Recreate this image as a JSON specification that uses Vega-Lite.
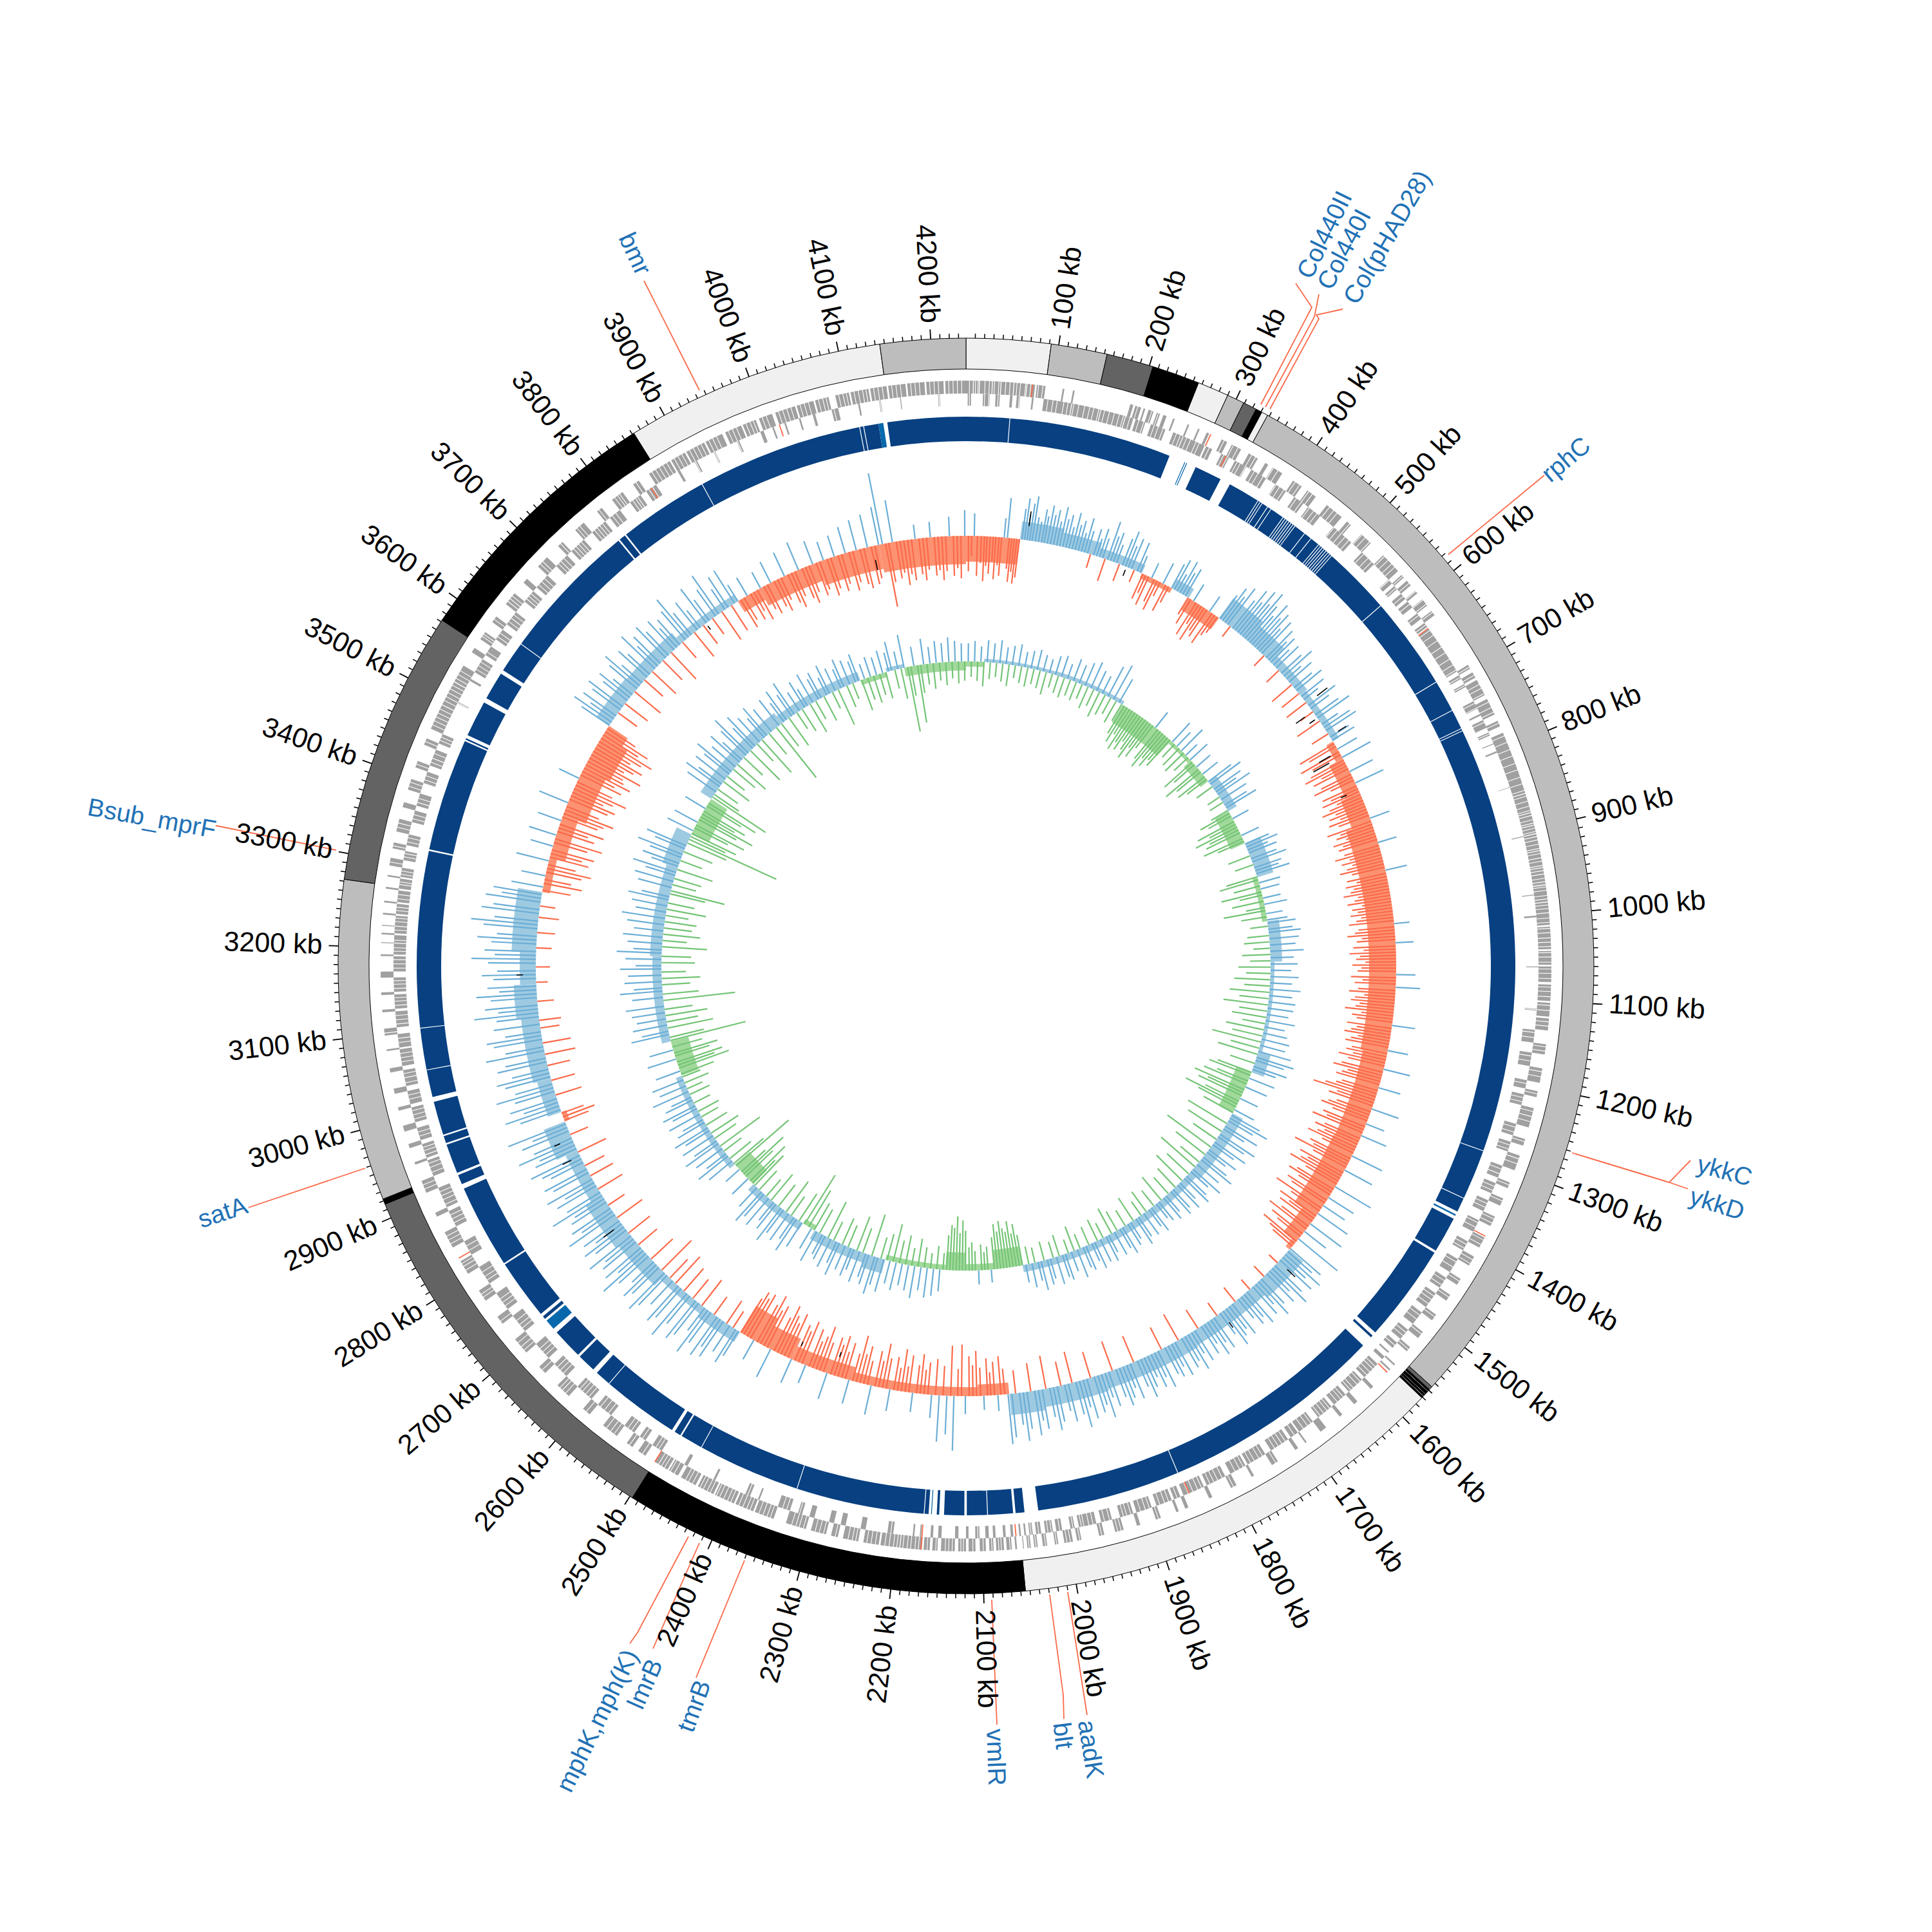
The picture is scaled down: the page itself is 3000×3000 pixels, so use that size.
{"$schema":"https://vega.github.io/schema/vega-lite/v6.json","width":3000,"height":3000,"autosize":{"type":"fit","contains":"padding"},"padding":0,"background":"white","config":{"view":{"stroke":null}},
"datasets":{
"contigs":[{"s":0,"e":92,"t":"a"},{"s":92,"e":153,"t":"b"},{"s":153,"e":204,"t":"c"},{"s":204,"e":256,"t":"d"},{"s":256,"e":290,"t":"a"},{"s":290,"e":309,"t":"b"},{"s":309,"e":324,"t":"c"},{"s":324,"e":331,"t":"d"},{"s":331,"e":338,"t":"a"},{"s":338,"e":1555,"t":"b"},{"s":1555,"e":1559,"t":"c"},{"s":1559,"e":1561,"t":"d"},{"s":1561,"e":1562,"t":"a"},{"s":1562,"e":1565,"t":"d"},{"s":1565,"e":1566,"t":"b"},{"s":1566,"e":1568,"t":"d"},{"s":1568,"e":1569,"t":"a"},{"s":1569,"e":1571,"t":"d"},{"s":1571,"e":2055,"t":"a"},{"s":2055,"e":2497,"t":"d"},{"s":2497,"e":2916,"t":"c"},{"s":2916,"e":2922,"t":"d"},{"s":2922,"e":3272,"t":"b"},{"s":3272,"e":3572,"t":"c"},{"s":3572,"e":3862,"t":"d"},{"s":3862,"e":4145,"t":"a"},{"s":4145,"e":4238,"t":"b"}],
"minor":[10,20,30,40,50,60,70,80,90,110,120,130,140,150,160,170,180,190,210,220,230,240,250,260,270,280,290,310,320,330,340,350,360,370,380,390,410,420,430,440,450,460,470,480,490,510,520,530,540,550,560,570,580,590,610,620,630,640,650,660,670,680,690,710,720,730,740,750,760,770,780,790,810,820,830,840,850,860,870,880,890,910,920,930,940,950,960,970,980,990,1010,1020,1030,1040,1050,1060,1070,1080,1090,1110,1120,1130,1140,1150,1160,1170,1180,1190,1210,1220,1230,1240,1250,1260,1270,1280,1290,1310,1320,1330,1340,1350,1360,1370,1380,1390,1410,1420,1430,1440,1450,1460,1470,1480,1490,1510,1520,1530,1540,1550,1560,1570,1580,1590,1610,1620,1630,1640,1650,1660,1670,1680,1690,1710,1720,1730,1740,1750,1760,1770,1780,1790,1810,1820,1830,1840,1850,1860,1870,1880,1890,1910,1920,1930,1940,1950,1960,1970,1980,1990,2010,2020,2030,2040,2050,2060,2070,2080,2090,2110,2120,2130,2140,2150,2160,2170,2180,2190,2210,2220,2230,2240,2250,2260,2270,2280,2290,2310,2320,2330,2340,2350,2360,2370,2380,2390,2410,2420,2430,2440,2450,2460,2470,2480,2490,2510,2520,2530,2540,2550,2560,2570,2580,2590,2610,2620,2630,2640,2650,2660,2670,2680,2690,2710,2720,2730,2740,2750,2760,2770,2780,2790,2810,2820,2830,2840,2850,2860,2870,2880,2890,2910,2920,2930,2940,2950,2960,2970,2980,2990,3010,3020,3030,3040,3050,3060,3070,3080,3090,3110,3120,3130,3140,3150,3160,3170,3180,3190,3210,3220,3230,3240,3250,3260,3270,3280,3290,3310,3320,3330,3340,3350,3360,3370,3380,3390,3410,3420,3430,3440,3450,3460,3470,3480,3490,3510,3520,3530,3540,3550,3560,3570,3580,3590,3610,3620,3630,3640,3650,3660,3670,3680,3690,3710,3720,3730,3740,3750,3760,3770,3780,3790,3810,3820,3830,3840,3850,3860,3870,3880,3890,3910,3920,3930,3940,3950,3960,3970,3980,3990,4010,4020,4030,4040,4050,4060,4070,4080,4090,4110,4120,4130,4140,4150,4160,4170,4180,4190,4210,4220,4230],
"major":[{"k":100,"t":"100 kb"},{"k":200,"t":"200 kb"},{"k":300,"t":"300 kb"},{"k":400,"t":"400 kb"},{"k":500,"t":"500 kb"},{"k":600,"t":"600 kb"},{"k":700,"t":"700 kb"},{"k":800,"t":"800 kb"},{"k":900,"t":"900 kb"},{"k":1000,"t":"1000 kb"},{"k":1100,"t":"1100 kb"},{"k":1200,"t":"1200 kb"},{"k":1300,"t":"1300 kb"},{"k":1400,"t":"1400 kb"},{"k":1500,"t":"1500 kb"},{"k":1600,"t":"1600 kb"},{"k":1700,"t":"1700 kb"},{"k":1800,"t":"1800 kb"},{"k":1900,"t":"1900 kb"},{"k":2000,"t":"2000 kb"},{"k":2100,"t":"2100 kb"},{"k":2200,"t":"2200 kb"},{"k":2300,"t":"2300 kb"},{"k":2400,"t":"2400 kb"},{"k":2500,"t":"2500 kb"},{"k":2600,"t":"2600 kb"},{"k":2700,"t":"2700 kb"},{"k":2800,"t":"2800 kb"},{"k":2900,"t":"2900 kb"},{"k":3000,"t":"3000 kb"},{"k":3100,"t":"3100 kb"},{"k":3200,"t":"3200 kb"},{"k":3300,"t":"3300 kb"},{"k":3400,"t":"3400 kb"},{"k":3500,"t":"3500 kb"},{"k":3600,"t":"3600 kb"},{"k":3700,"t":"3700 kb"},{"k":3800,"t":"3800 kb"},{"k":3900,"t":"3900 kb"},{"k":4000,"t":"4000 kb"},{"k":4100,"t":"4100 kb"},{"k":4200,"t":"4200 kb"}],
"cdsO":[{"s":0,"e":8},{"s":9,"e":15},{"s":16,"e":30},{"s":31,"e":40},{"s":41,"e":55},{"s":56,"e":70},{"s":71,"e":80},{"s":82,"e":92},{"s":112,"e":114},{"s":124,"e":126},{"s":192,"e":196},{"s":198,"e":205},{"s":208,"e":210},{"s":214,"e":220},{"s":224,"e":228},{"s":232,"e":236},{"s":244,"e":246},{"s":262,"e":264},{"s":275,"e":277},{"s":286,"e":289},{"s":305,"e":312},{"s":318,"e":330},{"s":340,"e":352},{"s":362,"e":366},{"s":372,"e":385},{"s":400,"e":412},{"s":420,"e":432},{"s":448,"e":470},{"s":478,"e":484},{"s":500,"e":515},{"s":535,"e":560},{"s":566,"e":570},{"s":575,"e":582},{"s":590,"e":594},{"s":603,"e":612},{"s":620,"e":626},{"s":695,"e":700},{"s":705,"e":712},{"s":715,"e":735},{"s":740,"e":760},{"s":768,"e":775},{"s":783,"e":857},{"s":858,"e":880},{"s":881,"e":895},{"s":896,"e":905},{"s":906,"e":925},{"s":926,"e":945},{"s":946,"e":965},{"s":966,"e":985},{"s":986,"e":1012},{"s":1014,"e":1040},{"s":1042,"e":1058},{"s":1060,"e":1078},{"s":1081,"e":1100},{"s":1102,"e":1118},{"s":1120,"e":1134},{"s":1150,"e":1162},{"s":1178,"e":1195},{"s":1205,"e":1212},{"s":1225,"e":1248},{"s":1262,"e":1270},{"s":1282,"e":1300},{"s":1315,"e":1322},{"s":1335,"e":1344},{"s":1358,"e":1370},{"s":1385,"e":1398},{"s":1410,"e":1422},{"s":1440,"e":1448},{"s":1462,"e":1470},{"s":1490,"e":1498},{"s":1515,"e":1524},{"s":1538,"e":1544},{"s":1564,"e":1566},{"s":1572,"e":1574},{"s":1600,"e":1604},{"s":1625,"e":1630},{"s":1648,"e":1652},{"s":1672,"e":1680},{"s":1700,"e":1702},{"s":1712,"e":1716},{"s":1740,"e":1748},{"s":1772,"e":1775},{"s":1795,"e":1802},{"s":1826,"e":1830},{"s":1856,"e":1860},{"s":1868,"e":1871},{"s":1890,"e":1896},{"s":1915,"e":1919},{"s":1935,"e":1945},{"s":1958,"e":1964},{"s":1985,"e":1990},{"s":1995,"e":2005},{"s":2012,"e":2016},{"s":2025,"e":2030},{"s":2036,"e":2040},{"s":2044,"e":2048},{"s":2052,"e":2053},{"s":2060,"e":2062},{"s":2066,"e":2072},{"s":2075,"e":2084},{"s":2087,"e":2092},{"s":2096,"e":2103},{"s":2108,"e":2116},{"s":2119,"e":2128},{"s":2132,"e":2148},{"s":2152,"e":2158},{"s":2161,"e":2168},{"s":2170,"e":2195},{"s":2196,"e":2218},{"s":2220,"e":2238},{"s":2244,"e":2262},{"s":2268,"e":2276},{"s":2282,"e":2300},{"s":2306,"e":2330},{"s":2345,"e":2368},{"s":2370,"e":2392},{"s":2394,"e":2418},{"s":2420,"e":2440},{"s":2443,"e":2462},{"s":2466,"e":2478},{"s":2480,"e":2497},{"s":2510,"e":2520},{"s":2528,"e":2536},{"s":2550,"e":2570},{"s":2590,"e":2600},{"s":2622,"e":2640},{"s":2660,"e":2670},{"s":2692,"e":2712},{"s":2735,"e":2745},{"s":2768,"e":2782},{"s":2805,"e":2822},{"s":2840,"e":2860},{"s":2880,"e":2885},{"s":2910,"e":2925},{"s":2945,"e":2948},{"s":2965,"e":2970},{"s":2985,"e":2992},{"s":3010,"e":3014},{"s":3030,"e":3036},{"s":3055,"e":3060},{"s":3080,"e":3082},{"s":3098,"e":3106},{"s":3125,"e":3128},{"s":3145,"e":3148},{"s":3165,"e":3172},{"s":3190,"e":3192},{"s":3205,"e":3206},{"s":3215,"e":3217},{"s":3225,"e":3226},{"s":3238,"e":3240},{"s":3252,"e":3254},{"s":3268,"e":3270},{"s":3282,"e":3284},{"s":3295,"e":3304},{"s":3315,"e":3322},{"s":3335,"e":3350},{"s":3364,"e":3370},{"s":3385,"e":3398},{"s":3412,"e":3420},{"s":3440,"e":3448},{"s":3460,"e":3490},{"s":3491,"e":3520},{"s":3521,"e":3542},{"s":3560,"e":3566},{"s":3578,"e":3588},{"s":3602,"e":3610},{"s":3628,"e":3644},{"s":3660,"e":3666},{"s":3685,"e":3700},{"s":3718,"e":3725},{"s":3745,"e":3758},{"s":3778,"e":3785},{"s":3800,"e":3815},{"s":3830,"e":3838},{"s":3852,"e":3880},{"s":3882,"e":3900},{"s":3902,"e":3925},{"s":3927,"e":3948},{"s":3952,"e":3972},{"s":3974,"e":3990},{"s":3994,"e":4010},{"s":4014,"e":4038},{"s":4040,"e":4060},{"s":4062,"e":4078},{"s":4086,"e":4102},{"s":4104,"e":4125},{"s":4127,"e":4146},{"s":4148,"e":4168},{"s":4170,"e":4190},{"s":4192,"e":4212},{"s":4214,"e":4238}],
"cdsI":[{"s":2,"e":6},{"s":20,"e":28},{"s":35,"e":40},{"s":52,"e":55},{"s":60,"e":64},{"s":78,"e":80},{"s":92,"e":125},{"s":126,"e":160},{"s":161,"e":190},{"s":191,"e":200},{"s":203,"e":215},{"s":222,"e":240},{"s":250,"e":262},{"s":263,"e":290},{"s":292,"e":300},{"s":312,"e":322},{"s":330,"e":345},{"s":352,"e":372},{"s":385,"e":400},{"s":412,"e":425},{"s":432,"e":450},{"s":470,"e":498},{"s":515,"e":535},{"s":560,"e":566},{"s":570,"e":575},{"s":582,"e":590},{"s":594,"e":603},{"s":612,"e":620},{"s":626,"e":632},{"s":634,"e":690},{"s":690,"e":695},{"s":700,"e":705},{"s":712,"e":716},{"s":735,"e":745},{"s":752,"e":754},{"s":760,"e":770},{"s":776,"e":780},{"s":790,"e":791},{"s":800,"e":802},{"s":845,"e":846},{"s":905,"e":906},{"s":975,"e":976},{"s":1000,"e":1002},{"s":1060,"e":1061},{"s":1110,"e":1112},{"s":1135,"e":1150},{"s":1162,"e":1178},{"s":1195,"e":1205},{"s":1212,"e":1225},{"s":1248,"e":1262},{"s":1270,"e":1282},{"s":1300,"e":1315},{"s":1322,"e":1335},{"s":1344,"e":1358},{"s":1370,"e":1385},{"s":1398,"e":1410},{"s":1422,"e":1440},{"s":1448,"e":1462},{"s":1470,"e":1490},{"s":1498,"e":1515},{"s":1524,"e":1538},{"s":1544,"e":1552},{"s":1558,"e":1560},{"s":1566,"e":1570},{"s":1578,"e":1600},{"s":1604,"e":1625},{"s":1630,"e":1648},{"s":1652,"e":1672},{"s":1680,"e":1700},{"s":1702,"e":1712},{"s":1716,"e":1740},{"s":1748,"e":1772},{"s":1775,"e":1795},{"s":1802,"e":1826},{"s":1830,"e":1856},{"s":1860,"e":1868},{"s":1871,"e":1890},{"s":1896,"e":1915},{"s":1919,"e":1935},{"s":1945,"e":1958},{"s":1964,"e":1985},{"s":1990,"e":1995},{"s":2005,"e":2012},{"s":2016,"e":2025},{"s":2030,"e":2036},{"s":2040,"e":2044},{"s":2048,"e":2050},{"s":2054,"e":2056},{"s":2063,"e":2066},{"s":2072,"e":2075},{"s":2084,"e":2087},{"s":2092,"e":2096},{"s":2103,"e":2108},{"s":2116,"e":2119},{"s":2128,"e":2132},{"s":2148,"e":2152},{"s":2158,"e":2161},{"s":2172,"e":2174},{"s":2180,"e":2182},{"s":2205,"e":2212},{"s":2238,"e":2244},{"s":2262,"e":2268},{"s":2276,"e":2282},{"s":2300,"e":2306},{"s":2315,"e":2320},{"s":2330,"e":2345},{"s":2368,"e":2370},{"s":2380,"e":2386},{"s":2425,"e":2428},{"s":2462,"e":2466},{"s":2497,"e":2510},{"s":2520,"e":2528},{"s":2536,"e":2550},{"s":2570,"e":2590},{"s":2600,"e":2622},{"s":2640,"e":2660},{"s":2670,"e":2692},{"s":2712,"e":2735},{"s":2745,"e":2768},{"s":2782,"e":2805},{"s":2822,"e":2840},{"s":2860,"e":2880},{"s":2885,"e":2910},{"s":2925,"e":2945},{"s":2948,"e":2965},{"s":2970,"e":2985},{"s":2992,"e":3010},{"s":3014,"e":3030},{"s":3036,"e":3055},{"s":3060,"e":3080},{"s":3082,"e":3098},{"s":3106,"e":3125},{"s":3128,"e":3145},{"s":3148,"e":3165},{"s":3172,"e":3190},{"s":3192,"e":3205},{"s":3206,"e":3215},{"s":3217,"e":3225},{"s":3226,"e":3238},{"s":3240,"e":3252},{"s":3254,"e":3268},{"s":3270,"e":3282},{"s":3284,"e":3295},{"s":3304,"e":3315},{"s":3322,"e":3335},{"s":3350,"e":3364},{"s":3370,"e":3385},{"s":3398,"e":3412},{"s":3420,"e":3440},{"s":3448,"e":3460},{"s":3500,"e":3502},{"s":3530,"e":3533},{"s":3542,"e":3560},{"s":3566,"e":3578},{"s":3588,"e":3602},{"s":3610,"e":3628},{"s":3644,"e":3660},{"s":3666,"e":3685},{"s":3700,"e":3718},{"s":3725,"e":3745},{"s":3758,"e":3778},{"s":3785,"e":3800},{"s":3815,"e":3830},{"s":3838,"e":3852},{"s":3882,"e":3885},{"s":3905,"e":3908},{"s":3930,"e":3932},{"s":3960,"e":3963},{"s":3990,"e":3994},{"s":4005,"e":4007},{"s":4020,"e":4022},{"s":4038,"e":4040},{"s":4055,"e":4058},{"s":4078,"e":4086},{"s":4110,"e":4112},{"s":4135,"e":4137},{"s":4160,"e":4161},{"s":4205,"e":4207}],
"hatch":[4,11,14,22,27,33,38,46,51,59,63,69,75,84,89,97,103,108,116,121,128,134,141,147,152,158,165,171,177,183,188,196,201,207,213,218,226,231,237,243,248,254,259,267,272,279,283,291,296,303,308,315,320,326,333,337,344,349,356,361,368,373,379,386,391,397,403,409,415,422,427,434,440,445,452,458,463,471,476,482,488,494,501,506,513,518,525,531,537,543,549,554,561,568,573,579,586,591,598,604,610,615,622,629,637,644,652,661,669,678,686,693,698,703,709,714,721,726,733,738,744,751,757,763,771,778,787,795,804,812,821,829,838,846,854,861,867,873,878,884,889,893,899,903,909,913,918,923,929,934,938,943,949,953,958,962,968,972,978,982,989,993,998,1004,1009,1016,1021,1027,1032,1037,1044,1049,1055,1063,1068,1074,1084,1089,1095,1105,1111,1124,1129,1138,1144,1153,1158,1166,1172,1182,1188,1199,1208,1216,1221,1229,1235,1241,1252,1258,1265,1274,1279,1286,1292,1304,1310,1318,1326,1331,1338,1348,1353,1361,1366,1373,1379,1388,1394,1402,1407,1414,1419,1426,1433,1443,1452,1458,1465,1474,1479,1485,1493,1502,1508,1518,1528,1533,1541,1548,1582,1586,1591,1596,1607,1612,1618,1622,1634,1638,1643,1655,1659,1664,1669,1683,1688,1694,1707,1720,1725,1730,1735,1743,1752,1757,1763,1768,1778,1783,1789,1799,1806,1812,1817,1822,1833,1838,1844,1850,1864,1875,1880,1886,1893,1899,1904,1910,1922,1927,1931,1938,1942,1948,1954,1961,1968,1973,1979,1982,1987,1992,1998,2002,2008,2014,2018,2022,2027,2033,2038,2042,2046,2068,2078,2081,2089,2099,2105,2111,2122,2125,2135,2139,2143,2154,2164,2174,2178,2183,2187,2192,2199,2203,2208,2213,2224,2229,2234,2247,2251,2256,2271,2285,2290,2295,2309,2314,2318,2323,2334,2339,2349,2353,2358,2363,2374,2378,2383,2388,2398,2402,2407,2412,2416,2424,2428,2433,2437,2447,2452,2456,2471,2476,2484,2488,2492,2501,2505,2514,2524,2532,2540,2545,2554,2559,2565,2574,2580,2586,2595,2604,2609,2614,2618,2627,2632,2636,2645,2650,2655,2665,2675,2680,2685,2696,2701,2707,2717,2722,2728,2739,2750,2755,2760,2773,2777,2787,2792,2798,2810,2815,2819,2828,2834,2845,2850,2855,2865,2870,2875,2889,2895,2900,2905,2915,2920,2930,2936,2941,2952,2957,2961,2975,2980,2996,3001,3006,3020,3025,3040,3046,3051,3065,3070,3075,3088,3093,3101,3110,3115,3120,3132,3137,3141,3152,3157,3161,3176,3181,3186,3196,3200,3209,3221,3231,3235,3244,3248,3258,3263,3275,3278,3287,3291,3299,3308,3312,3318,3326,3331,3340,3345,3354,3359,3374,3379,3389,3394,3402,3407,3416,3424,3429,3435,3444,3452,3456,3465,3470,3475,3480,3485,3496,3501,3506,3511,3516,3525,3530,3535,3546,3551,3556,3570,3582,3585,3592,3597,3606,3614,3619,3624,3632,3636,3640,3648,3652,3656,3670,3675,3680,3689,3693,3704,3708,3713,3722,3729,3733,3737,3741,3748,3752,3762,3766,3770,3774,3781,3789,3794,3804,3808,3811,3819,3823,3826,3834,3842,3847,3856,3861,3866,3871,3876,3886,3891,3896,3906,3911,3916,3921,3931,3936,3941,3956,3961,3966,3978,3983,3987,3998,4003,4018,4023,4028,4033,4044,4049,4054,4066,4071,4075,4081,4090,4095,4099,4108,4113,4118,4122,4131,4136,4141,4152,4157,4162,4174,4179,4184,4196,4201,4206,4218,4223,4228,4233],
"ring":[{"s":0,"e":256,"t":"m"},{"s":276,"e":277,"t":"l"},{"s":278.5,"e":279.5,"t":"l"},{"s":291,"e":325,"t":"m"},{"s":338,"e":1372,"t":"m"},{"s":1376,"e":1378,"t":"l"},{"s":1382,"e":1427,"t":"m"},{"s":1430,"e":1552,"t":"m"},{"s":1557,"e":1560,"t":"m"},{"s":1574,"e":2030,"t":"m"},{"s":2047,"e":2058,"t":"m"},{"s":2061,"e":2092,"t":"m"},{"s":2093,"e":2118,"t":"m"},{"s":2121,"e":2146,"t":"m"},{"s":2152,"e":2155,"t":"m"},{"s":2161,"e":2162,"t":"l"},{"s":2165,"e":2170,"t":"m"},{"s":2171,"e":2486,"t":"m"},{"s":2488,"e":2496,"t":"m"},{"s":2500,"e":2616,"t":"m"},{"s":2622,"e":2645,"t":"m"},{"s":2648,"e":2686,"t":"m"},{"s":2692,"e":2705,"t":"l"},{"s":2708,"e":2712,"t":"m"},{"s":2716,"e":2791,"t":"m"},{"s":2793,"e":2897,"t":"m"},{"s":2903,"e":2915,"t":"m"},{"s":2918,"e":2955,"t":"m"},{"s":2957,"e":2966,"t":"m"},{"s":2968,"e":3010,"t":"m"},{"s":3016,"e":3321,"t":"m"},{"s":3323,"e":3463,"t":"m"},{"s":3465,"e":3467,"t":"m"},{"s":3471,"e":3516,"t":"m"},{"s":3522,"e":3557,"t":"m"},{"s":3562,"e":3776,"t":"m"},{"s":3778,"e":3786,"t":"m"},{"s":3788,"e":4106,"t":"m"},{"s":4107,"e":4111,"t":"m"},{"s":4112,"e":4130,"t":"m"},{"s":4130,"e":4136,"t":"l"},{"s":4141,"e":4238,"t":"m"}],
"slits":[54,378,381,384,392,397,415,418,421,424,427,430,433,448,458,470,473,476,479,482,485,488,491,577,693,733,758,761,1291,1354,1852,2330,2458,2596,3050,3102,3601,3900],
"markO":[77,291,1383,1577,2171,2497,2826],
"markI":[318,634,1849,2060,2171,3845,4014],
"skewBand":[{"s":0,"e":85,"v":-40},{"s":85,"e":150,"v":28},{"s":150,"e":210,"v":22},{"s":210,"e":284,"v":14},{"s":284,"e":337,"v":-8},{"s":337,"e":367,"v":16},{"s":367,"e":424,"v":-22},{"s":424,"e":480,"v":38},{"s":480,"e":530,"v":30},{"s":530,"e":600,"v":14},{"s":600,"e":689,"v":11},{"s":689,"e":720,"v":-12},{"s":720,"e":780,"v":-24},{"s":780,"e":830,"v":-32},{"s":830,"e":1200,"v":-42},{"s":1200,"e":1350,"v":-38},{"s":1350,"e":1480,"v":-40},{"s":1480,"e":1530,"v":-25},{"s":1530,"e":1545,"v":-8},{"s":1545,"e":1620,"v":28},{"s":1620,"e":1750,"v":22},{"s":1750,"e":1900,"v":25},{"s":1900,"e":2000,"v":28},{"s":2000,"e":2051,"v":33},{"s":2051,"e":2100,"v":-18},{"s":2100,"e":2300,"v":-14},{"s":2300,"e":2400,"v":-22},{"s":2400,"e":2450,"v":-35},{"s":2450,"e":2492,"v":-48},{"s":2492,"e":2560,"v":18},{"s":2560,"e":2640,"v":12},{"s":2640,"e":2720,"v":25},{"s":2720,"e":2800,"v":30},{"s":2800,"e":2880,"v":20},{"s":2880,"e":2929,"v":35},{"s":2929,"e":2945,"v":-8},{"s":2945,"e":3000,"v":22},{"s":3000,"e":3100,"v":28},{"s":3100,"e":3150,"v":35},{"s":3150,"e":3200,"v":25},{"s":3200,"e":3295,"v":38},{"s":3295,"e":3350,"v":-12},{"s":3350,"e":3420,"v":-25},{"s":3420,"e":3500,"v":-38},{"s":3500,"e":3560,"v":-45},{"s":3560,"e":3578,"v":-35},{"s":3578,"e":3650,"v":24},{"s":3650,"e":3750,"v":22},{"s":3750,"e":3861,"v":12},{"s":3861,"e":3900,"v":-20},{"s":3900,"e":4000,"v":-30},{"s":4000,"e":4100,"v":-38},{"s":4100,"e":4238,"v":-44}],
"skew":[{"p":4,"v":-55},{"p":9,"v":-32},{"p":13,"v":35},{"p":18,"v":-62},{"p":24,"v":-42},{"p":29,"v":-70},{"p":33,"v":-46},{"p":38,"v":-58},{"p":43,"v":-38},{"p":47,"v":-66},{"p":52,"v":-44},{"p":56,"v":-60},{"p":60,"v":30},{"p":65,"v":62},{"p":68,"v":-48},{"p":72,"v":-68},{"p":76,"v":-52},{"p":80,"v":-70},{"p":84,"v":-60},{"p":88,"v":48},{"p":92,"v":65},{"p":96,"v":40},{"p":100,"v":58},{"p":104,"v":70},{"p":109,"v":38},{"p":114,"v":32},{"p":119,"v":52},{"p":123,"v":42},{"p":128,"v":60},{"p":133,"v":46},{"p":138,"v":55},{"p":143,"v":38},{"p":148,"v":62},{"p":153,"v":44},{"p":158,"v":52},{"p":163,"v":34},{"p":168,"v":58},{"p":173,"v":40},{"p":178,"v":48},{"p":183,"v":30},{"p":188,"v":55},{"p":193,"v":36},{"p":198,"v":-22},{"p":203,"v":42},{"p":208,"v":28},{"p":213,"v":46},{"p":218,"v":32},{"p":222,"v":-36},{"p":226,"v":62},{"p":231,"v":40},{"p":236,"v":48},{"p":241,"v":30},{"p":246,"v":-28},{"p":251,"v":44},{"p":256,"v":58},{"p":261,"v":36},{"p":266,"v":50},{"p":271,"v":-20},{"p":276,"v":48},{"p":281,"v":28},{"p":286,"v":-42},{"p":291,"v":-30},{"p":296,"v":-48},{"p":301,"v":25},{"p":306,"v":-38},{"p":311,"v":-50},{"p":316,"v":-24},{"p":321,"v":35},{"p":326,"v":-45},{"p":331,"v":-28},{"p":336,"v":42},{"p":341,"v":52},{"p":346,"v":30},{"p":351,"v":55},{"p":356,"v":38},{"p":361,"v":48},{"p":366,"v":-30},{"p":371,"v":-44},{"p":376,"v":30},{"p":381,"v":-58},{"p":386,"v":-36},{"p":391,"v":-62},{"p":396,"v":-42},{"p":401,"v":-50},{"p":406,"v":28},{"p":411,"v":-56},{"p":416,"v":-38},{"p":421,"v":-30},{"p":426,"v":45},{"p":431,"v":62},{"p":436,"v":50},{"p":441,"v":70},{"p":446,"v":-20},{"p":451,"v":55},{"p":456,"v":78},{"p":461,"v":60},{"p":466,"v":85},{"p":471,"v":65},{"p":476,"v":90},{"p":481,"v":70},{"p":486,"v":55},{"p":491,"v":82},{"p":496,"v":60},{"p":501,"v":72},{"p":506,"v":48},{"p":511,"v":66},{"p":516,"v":-22},{"p":521,"v":58},{"p":526,"v":40},{"p":531,"v":52},{"p":537,"v":34},{"p":543,"v":48},{"p":549,"v":-26},{"p":555,"v":42},{"p":561,"v":58},{"p":567,"v":30},{"p":573,"v":46},{"p":579,"v":-40},{"p":585,"v":36},{"p":591,"v":50},{"p":597,"v":-34},{"p":603,"v":44},{"p":609,"v":28},{"p":615,"v":-38},{"p":621,"v":52},{"p":627,"v":35},{"p":633,"v":-24},{"p":639,"v":44},{"p":645,"v":60},{"p":651,"v":-42},{"p":657,"v":30},{"p":663,"v":48},{"p":669,"v":55},{"p":675,"v":-30},{"p":681,"v":34},{"p":687,"v":40},{"p":693,"v":-62},{"p":698,"v":-48},{"p":703,"v":35},{"p":708,"v":-68},{"p":713,"v":-50},{"p":718,"v":50},{"p":723,"v":-58},{"p":728,"v":-70},{"p":733,"v":-44},{"p":738,"v":-60},{"p":743,"v":40},{"p":748,"v":-52},{"p":753,"v":-66},{"p":758,"v":-40},{"p":763,"v":48},{"p":768,"v":-58},{"p":773,"v":-46},{"p":778,"v":-62},{"p":783,"v":-40},{"p":788,"v":-54},{"p":793,"v":-68},{"p":798,"v":-48},{"p":803,"v":-60},{"p":808,"v":-44},{"p":813,"v":-64},{"p":818,"v":-50},{"p":823,"v":32},{"p":828,"v":-72},{"p":833,"v":-52},{"p":838,"v":-60},{"p":843,"v":-46},{"p":848,"v":-68},{"p":853,"v":-54},{"p":858,"v":-62},{"p":863,"v":30},{"p":868,"v":-56},{"p":873,"v":-72},{"p":878,"v":-50},{"p":883,"v":-64},{"p":888,"v":-48},{"p":893,"v":-58},{"p":898,"v":-70},{"p":903,"v":-52},{"p":908,"v":34},{"p":913,"v":-62},{"p":918,"v":-48},{"p":923,"v":-66},{"p":928,"v":-54},{"p":933,"v":-60},{"p":938,"v":-72},{"p":943,"v":-50},{"p":948,"v":-56},{"p":953,"v":-68},{"p":958,"v":-46},{"p":963,"v":-62},{"p":968,"v":-54},{"p":973,"v":-66},{"p":978,"v":-50},{"p":983,"v":-58},{"p":988,"v":-70},{"p":993,"v":24},{"p":998,"v":-56},{"p":1003,"v":-62},{"p":1008,"v":-74},{"p":1013,"v":-52},{"p":1018,"v":-60},{"p":1023,"v":28},{"p":1028,"v":-66},{"p":1033,"v":-50},{"p":1038,"v":-72},{"p":1043,"v":-56},{"p":1048,"v":-62},{"p":1053,"v":-48},{"p":1058,"v":-68},{"p":1063,"v":-54},{"p":1068,"v":-60},{"p":1073,"v":30},{"p":1078,"v":-70},{"p":1083,"v":-52},{"p":1088,"v":-64},{"p":1093,"v":38},{"p":1098,"v":-58},{"p":1103,"v":-72},{"p":1108,"v":-48},{"p":1113,"v":-62},{"p":1118,"v":-68},{"p":1123,"v":-54},{"p":1128,"v":-60},{"p":1133,"v":-76},{"p":1138,"v":-50},{"p":1143,"v":-64},{"p":1148,"v":-56},{"p":1153,"v":36},{"p":1158,"v":-70},{"p":1163,"v":-54},{"p":1168,"v":-62},{"p":1173,"v":-72},{"p":1178,"v":-50},{"p":1183,"v":-60},{"p":1188,"v":-68},{"p":1193,"v":32},{"p":1198,"v":-56},{"p":1203,"v":-64},{"p":1208,"v":-52},{"p":1213,"v":-74},{"p":1218,"v":-58},{"p":1223,"v":42},{"p":1228,"v":-66},{"p":1233,"v":-78},{"p":1238,"v":-54},{"p":1243,"v":-62},{"p":1248,"v":-70},{"p":1253,"v":35},{"p":1258,"v":-58},{"p":1263,"v":-66},{"p":1268,"v":-82},{"p":1273,"v":-100},{"p":1278,"v":-60},{"p":1283,"v":-72},{"p":1288,"v":44},{"p":1293,"v":-56},{"p":1298,"v":-68},{"p":1303,"v":-78},{"p":1308,"v":-58},{"p":1313,"v":30},{"p":1318,"v":-70},{"p":1323,"v":-62},{"p":1328,"v":-84},{"p":1333,"v":42},{"p":1338,"v":-60},{"p":1343,"v":-74},{"p":1348,"v":-56},{"p":1353,"v":-66},{"p":1358,"v":-80},{"p":1363,"v":-54},{"p":1368,"v":52},{"p":1373,"v":-70},{"p":1378,"v":-62},{"p":1383,"v":-92},{"p":1388,"v":-58},{"p":1393,"v":48},{"p":1398,"v":-76},{"p":1403,"v":-60},{"p":1408,"v":-70},{"p":1413,"v":-86},{"p":1418,"v":-56},{"p":1423,"v":64},{"p":1428,"v":-66},{"p":1433,"v":-78},{"p":1438,"v":-58},{"p":1443,"v":46},{"p":1448,"v":-72},{"p":1453,"v":-62},{"p":1458,"v":40},{"p":1463,"v":-84},{"p":1468,"v":-54},{"p":1473,"v":56},{"p":1478,"v":-68},{"p":1483,"v":-48},{"p":1488,"v":-62},{"p":1493,"v":60},{"p":1498,"v":-52},{"p":1503,"v":-72},{"p":1508,"v":42},{"p":1513,"v":-60},{"p":1518,"v":-46},{"p":1523,"v":78},{"p":1528,"v":-66},{"p":1533,"v":-50},{"p":1538,"v":-40},{"p":1543,"v":62},{"p":1549,"v":50},{"p":1555,"v":72},{"p":1561,"v":48},{"p":1567,"v":66},{"p":1573,"v":-18},{"p":1579,"v":58},{"p":1585,"v":74},{"p":1591,"v":44},{"p":1597,"v":60},{"p":1603,"v":-22},{"p":1609,"v":52},{"p":1615,"v":68},{"p":1621,"v":42},{"p":1627,"v":56},{"p":1633,"v":-20},{"p":1639,"v":62},{"p":1645,"v":46},{"p":1651,"v":54},{"p":1657,"v":38},{"p":1663,"v":-28},{"p":1669,"v":58},{"p":1675,"v":44},{"p":1681,"v":52},{"p":1687,"v":64},{"p":1693,"v":40},{"p":1699,"v":-24},{"p":1705,"v":56},{"p":1711,"v":42},{"p":1717,"v":60},{"p":1723,"v":36},{"p":1729,"v":50},{"p":1735,"v":-34},{"p":1741,"v":54},{"p":1747,"v":38},{"p":1753,"v":62},{"p":1759,"v":44},{"p":1765,"v":52},{"p":1771,"v":-46},{"p":1777,"v":58},{"p":1783,"v":40},{"p":1789,"v":54},{"p":1795,"v":46},{"p":1801,"v":-38},{"p":1807,"v":62},{"p":1813,"v":42},{"p":1819,"v":56},{"p":1825,"v":36},{"p":1831,"v":50},{"p":1837,"v":64},{"p":1843,"v":44},{"p":1849,"v":-44},{"p":1855,"v":58},{"p":1861,"v":38},{"p":1867,"v":52},{"p":1873,"v":62},{"p":1879,"v":46},{"p":1885,"v":-48},{"p":1891,"v":56},{"p":1897,"v":40},{"p":1903,"v":70},{"p":1909,"v":48},{"p":1915,"v":58},{"p":1921,"v":-42},{"p":1927,"v":64},{"p":1933,"v":44},{"p":1939,"v":74},{"p":1945,"v":52},{"p":1951,"v":-50},{"p":1957,"v":60},{"p":1963,"v":42},{"p":1969,"v":-38},{"p":1975,"v":56},{"p":1981,"v":68},{"p":1987,"v":46},{"p":1993,"v":-52},{"p":1999,"v":62},{"p":2005,"v":48},{"p":2011,"v":70},{"p":2017,"v":-44},{"p":2023,"v":58},{"p":2029,"v":76},{"p":2035,"v":50},{"p":2041,"v":-36},{"p":2047,"v":68},{"p":2053,"v":78},{"p":2058,"v":-40},{"p":2064,"v":-60},{"p":2069,"v":25},{"p":2074,"v":-52},{"p":2080,"v":-36},{"p":2085,"v":-58},{"p":2091,"v":22},{"p":2096,"v":-44},{"p":2102,"v":-70},{"p":2108,"v":-48},{"p":2114,"v":-62},{"p":2120,"v":28},{"p":2126,"v":-80},{"p":2132,"v":-42},{"p":2138,"v":85},{"p":2143,"v":-78},{"p":2149,"v":60},{"p":2155,"v":-46},{"p":2161,"v":72},{"p":2167,"v":-56},{"p":2173,"v":36},{"p":2179,"v":-50},{"p":2185,"v":-38},{"p":2191,"v":-62},{"p":2197,"v":-44},{"p":2203,"v":30},{"p":2209,"v":-58},{"p":2215,"v":-40},{"p":2221,"v":-66},{"p":2227,"v":-36},{"p":2233,"v":-52},{"p":2239,"v":34},{"p":2245,"v":-48},{"p":2251,"v":-70},{"p":2257,"v":-42},{"p":2263,"v":-56},{"p":2269,"v":46},{"p":2275,"v":-38},{"p":2281,"v":-60},{"p":2287,"v":-46},{"p":2293,"v":-74},{"p":2299,"v":-44},{"p":2305,"v":38},{"p":2311,"v":-58},{"p":2317,"v":-42},{"p":2323,"v":-66},{"p":2329,"v":-50},{"p":2335,"v":-60},{"p":2341,"v":42},{"p":2347,"v":-48},{"p":2353,"v":-72},{"p":2359,"v":-54},{"p":2365,"v":-44},{"p":2371,"v":-62},{"p":2377,"v":30},{"p":2383,"v":-70},{"p":2389,"v":-52},{"p":2395,"v":-60},{"p":2401,"v":40},{"p":2407,"v":-74},{"p":2413,"v":-56},{"p":2419,"v":-66},{"p":2425,"v":-80},{"p":2431,"v":-58},{"p":2437,"v":48},{"p":2443,"v":-72},{"p":2449,"v":-62},{"p":2455,"v":-84},{"p":2461,"v":-66},{"p":2467,"v":34},{"p":2473,"v":-78},{"p":2479,"v":-68},{"p":2485,"v":-76},{"p":2490,"v":-62},{"p":2495,"v":45},{"p":2500,"v":60},{"p":2505,"v":-30},{"p":2511,"v":48},{"p":2517,"v":-42},{"p":2523,"v":66},{"p":2529,"v":52},{"p":2535,"v":72},{"p":2541,"v":-34},{"p":2547,"v":58},{"p":2553,"v":80},{"p":2559,"v":44},{"p":2565,"v":-50},{"p":2571,"v":62},{"p":2577,"v":74},{"p":2583,"v":-38},{"p":2589,"v":56},{"p":2595,"v":84},{"p":2601,"v":-46},{"p":2607,"v":60},{"p":2613,"v":72},{"p":2619,"v":-56},{"p":2625,"v":50},{"p":2631,"v":-40},{"p":2637,"v":64},{"p":2643,"v":78},{"p":2649,"v":-65},{"p":2655,"v":58},{"p":2661,"v":70},{"p":2667,"v":46},{"p":2673,"v":-46},{"p":2679,"v":62},{"p":2685,"v":88},{"p":2691,"v":52},{"p":2697,"v":72},{"p":2703,"v":-38},{"p":2709,"v":66},{"p":2715,"v":56},{"p":2721,"v":82},{"p":2727,"v":-42},{"p":2733,"v":60},{"p":2739,"v":76},{"p":2745,"v":50},{"p":2751,"v":68},{"p":2757,"v":-48},{"p":2763,"v":86},{"p":2769,"v":58},{"p":2775,"v":72},{"p":2781,"v":-30},{"p":2787,"v":64},{"p":2793,"v":54},{"p":2799,"v":90},{"p":2805,"v":60},{"p":2811,"v":-44},{"p":2817,"v":70},{"p":2823,"v":52},{"p":2829,"v":80},{"p":2835,"v":-40},{"p":2841,"v":62},{"p":2847,"v":74},{"p":2853,"v":-34},{"p":2859,"v":56},{"p":2865,"v":68},{"p":2871,"v":84},{"p":2877,"v":-48},{"p":2883,"v":70},{"p":2889,"v":60},{"p":2895,"v":92},{"p":2901,"v":64},{"p":2907,"v":-30},{"p":2913,"v":78},{"p":2919,"v":58},{"p":2925,"v":96},{"p":2931,"v":-40},{"p":2937,"v":-52},{"p":2943,"v":-36},{"p":2949,"v":66},{"p":2955,"v":88},{"p":2961,"v":56},{"p":2967,"v":76},{"p":2973,"v":-42},{"p":2979,"v":64},{"p":2985,"v":92},{"p":2991,"v":60},{"p":2997,"v":-38},{"p":3003,"v":72},{"p":3009,"v":84},{"p":3015,"v":58},{"p":3021,"v":-36},{"p":3027,"v":78},{"p":3033,"v":64},{"p":3039,"v":-48},{"p":3045,"v":92},{"p":3051,"v":60},{"p":3057,"v":-44},{"p":3063,"v":76},{"p":3069,"v":86},{"p":3075,"v":56},{"p":3081,"v":-30},{"p":3087,"v":72},{"p":3093,"v":-34},{"p":3099,"v":66},{"p":3105,"v":100},{"p":3111,"v":62},{"p":3117,"v":82},{"p":3123,"v":-26},{"p":3129,"v":72},{"p":3135,"v":94},{"p":3141,"v":58},{"p":3147,"v":76},{"p":3153,"v":-18},{"p":3159,"v":66},{"p":3165,"v":84},{"p":3171,"v":60},{"p":3177,"v":-22},{"p":3183,"v":74},{"p":3189,"v":100},{"p":3195,"v":64},{"p":3201,"v":80},{"p":3207,"v":-24},{"p":3213,"v":70},{"p":3219,"v":92},{"p":3225,"v":62},{"p":3231,"v":-28},{"p":3237,"v":84},{"p":3243,"v":104},{"p":3249,"v":68},{"p":3255,"v":-32},{"p":3261,"v":90},{"p":3267,"v":72},{"p":3273,"v":-24},{"p":3279,"v":86},{"p":3285,"v":62},{"p":3291,"v":76},{"p":3298,"v":-44},{"p":3303,"v":50},{"p":3309,"v":-60},{"p":3315,"v":-42},{"p":3321,"v":38},{"p":3327,"v":-56},{"p":3333,"v":-70},{"p":3339,"v":-44},{"p":3345,"v":52},{"p":3351,"v":-62},{"p":3357,"v":-50},{"p":3363,"v":-68},{"p":3369,"v":36},{"p":3375,"v":-54},{"p":3381,"v":-76},{"p":3387,"v":44},{"p":3393,"v":-60},{"p":3399,"v":-48},{"p":3405,"v":-72},{"p":3411,"v":38},{"p":3417,"v":-58},{"p":3423,"v":-66},{"p":3429,"v":-80},{"p":3435,"v":-54},{"p":3441,"v":48},{"p":3447,"v":-64},{"p":3453,"v":-74},{"p":3459,"v":-52},{"p":3465,"v":-66},{"p":3471,"v":-86},{"p":3477,"v":-60},{"p":3483,"v":34},{"p":3489,"v":-70},{"p":3495,"v":-56},{"p":3501,"v":-80},{"p":3507,"v":-66},{"p":3513,"v":-62},{"p":3519,"v":-90},{"p":3525,"v":-58},{"p":3531,"v":-72},{"p":3537,"v":-84},{"p":3543,"v":-60},{"p":3549,"v":-76},{"p":3555,"v":-92},{"p":3561,"v":-64},{"p":3567,"v":-78},{"p":3573,"v":-52},{"p":3579,"v":52},{"p":3585,"v":70},{"p":3591,"v":44},{"p":3597,"v":62},{"p":3603,"v":-36},{"p":3609,"v":54},{"p":3615,"v":66},{"p":3621,"v":-44},{"p":3627,"v":48},{"p":3633,"v":60},{"p":3639,"v":38},{"p":3645,"v":-52},{"p":3651,"v":56},{"p":3657,"v":70},{"p":3663,"v":42},{"p":3669,"v":-38},{"p":3675,"v":60},{"p":3681,"v":46},{"p":3687,"v":-50},{"p":3693,"v":72},{"p":3699,"v":44},{"p":3705,"v":58},{"p":3711,"v":-42},{"p":3717,"v":66},{"p":3723,"v":50},{"p":3729,"v":-56},{"p":3735,"v":60},{"p":3741,"v":40},{"p":3747,"v":52},{"p":3753,"v":-32},{"p":3759,"v":58},{"p":3765,"v":76},{"p":3771,"v":44},{"p":3777,"v":-48},{"p":3783,"v":54},{"p":3789,"v":34},{"p":3795,"v":-36},{"p":3801,"v":66},{"p":3807,"v":40},{"p":3813,"v":-30},{"p":3819,"v":50},{"p":3825,"v":72},{"p":3831,"v":-52},{"p":3837,"v":38},{"p":3843,"v":56},{"p":3849,"v":-46},{"p":3855,"v":60},{"p":3861,"v":30},{"p":3866,"v":-50},{"p":3872,"v":-40},{"p":3878,"v":32},{"p":3884,"v":-46},{"p":3890,"v":-34},{"p":3896,"v":-52},{"p":3902,"v":28},{"p":3908,"v":-40},{"p":3914,"v":-50},{"p":3920,"v":36},{"p":3926,"v":-44},{"p":3932,"v":-54},{"p":3938,"v":-38},{"p":3944,"v":40},{"p":3950,"v":-48},{"p":3956,"v":-58},{"p":3962,"v":-42},{"p":3968,"v":46},{"p":3974,"v":-50},{"p":3980,"v":-60},{"p":3986,"v":-44},{"p":3992,"v":38},{"p":3998,"v":-54},{"p":4004,"v":-46},{"p":4010,"v":30},{"p":4016,"v":-60},{"p":4022,"v":-50},{"p":4028,"v":34},{"p":4034,"v":-58},{"p":4040,"v":-48},{"p":4046,"v":42},{"p":4052,"v":-62},{"p":4058,"v":-50},{"p":4064,"v":48},{"p":4070,"v":-56},{"p":4076,"v":-64},{"p":4082,"v":52},{"p":4088,"v":-60},{"p":4094,"v":-52},{"p":4100,"v":60},{"p":4106,"v":112},{"p":4111,"v":-100},{"p":4116,"v":-62},{"p":4122,"v":66},{"p":4128,"v":-58},{"p":4134,"v":-50},{"p":4140,"v":-70},{"p":4146,"v":-54},{"p":4152,"v":-64},{"p":4158,"v":22},{"p":4164,"v":-56},{"p":4170,"v":-66},{"p":4176,"v":-50},{"p":4182,"v":24},{"p":4188,"v":-60},{"p":4194,"v":-52},{"p":4200,"v":-68},{"p":4206,"v":-54},{"p":4212,"v":30},{"p":4218,"v":-62},{"p":4224,"v":-50},{"p":4230,"v":-66},{"p":4236,"v":40}],
"blackMarks":[{"p":96,"v":22,"w":45},{"p":258,"v":-5,"w":-15},{"p":617,"v":20,"w":40},{"p":632,"v":-15,"w":-32},{"p":645,"v":-5,"w":-15},{"p":680,"v":15,"w":30},{"p":707,"v":-15,"w":-35},{"p":716,"v":-22,"w":-50},{"p":775,"v":-20,"w":-30},{"p":1570,"v":18,"w":35},{"p":1690,"v":20,"w":30},{"p":2330,"v":-30,"w":-38},{"p":2395,"v":-25,"w":-32},{"p":2745,"v":15,"w":35},{"p":2870,"v":15,"w":30},{"p":2900,"v":20,"w":30},{"p":3165,"v":20,"w":30},{"p":3800,"v":-5,"w":-12},{"p":4090,"v":-22,"w":-38}],
"gcBand":[{"s":0,"e":40,"v":-8},{"s":40,"e":200,"v":5},{"s":200,"e":364,"v":6},{"s":364,"e":498,"v":-32},{"s":498,"e":560,"v":-6},{"s":560,"e":620,"v":-15},{"s":620,"e":700,"v":15},{"s":700,"e":780,"v":-24},{"s":780,"e":860,"v":26},{"s":860,"e":960,"v":-8},{"s":960,"e":1050,"v":18},{"s":1050,"e":1250,"v":6},{"s":1250,"e":1300,"v":20},{"s":1300,"e":1400,"v":-25},{"s":1400,"e":1560,"v":18},{"s":1560,"e":1800,"v":12},{"s":1800,"e":1993,"v":11},{"s":1993,"e":2056,"v":-30},{"s":2056,"e":2119,"v":-10},{"s":2119,"e":2165,"v":-28},{"s":2165,"e":2300,"v":-8},{"s":2300,"e":2345,"v":22},{"s":2345,"e":2470,"v":15},{"s":2470,"e":2500,"v":-8},{"s":2500,"e":2640,"v":12},{"s":2640,"e":2700,"v":-30},{"s":2700,"e":2800,"v":10},{"s":2800,"e":2930,"v":10},{"s":2930,"e":3010,"v":-28},{"s":3010,"e":3200,"v":14},{"s":3200,"e":3400,"v":18},{"s":3400,"e":3480,"v":25},{"s":3480,"e":3570,"v":-30},{"s":3570,"e":3800,"v":20},{"s":3800,"e":3999,"v":14},{"s":3999,"e":4060,"v":-8},{"s":4060,"e":4100,"v":6},{"s":4100,"e":4238,"v":-14}],
"gc":[{"p":5,"v":28},{"p":12,"v":-24},{"p":19,"v":32},{"p":26,"v":-30},{"p":33,"v":24},{"p":40,"v":-38},{"p":47,"v":34},{"p":54,"v":-26},{"p":61,"v":30},{"p":68,"v":-22},{"p":75,"v":36},{"p":82,"v":-28},{"p":89,"v":26},{"p":96,"v":-34},{"p":103,"v":30},{"p":110,"v":-20},{"p":117,"v":34},{"p":124,"v":-26},{"p":131,"v":24},{"p":138,"v":-30},{"p":145,"v":28},{"p":152,"v":-24},{"p":159,"v":32},{"p":166,"v":-28},{"p":173,"v":26},{"p":180,"v":-36},{"p":187,"v":22},{"p":194,"v":-22},{"p":201,"v":30},{"p":208,"v":-28},{"p":215,"v":34},{"p":222,"v":-32},{"p":229,"v":24},{"p":236,"v":-26},{"p":243,"v":36},{"p":250,"v":-30},{"p":257,"v":30},{"p":264,"v":-24},{"p":271,"v":38},{"p":278,"v":-36},{"p":285,"v":44},{"p":292,"v":-28},{"p":299,"v":34},{"p":306,"v":-42},{"p":313,"v":30},{"p":320,"v":-34},{"p":327,"v":52},{"p":334,"v":-28},{"p":341,"v":60},{"p":348,"v":-38},{"p":355,"v":42},{"p":362,"v":-30},{"p":369,"v":-50},{"p":376,"v":-62},{"p":383,"v":-46},{"p":390,"v":-70},{"p":397,"v":-55},{"p":404,"v":-66},{"p":411,"v":-48},{"p":418,"v":-60},{"p":425,"v":-72},{"p":432,"v":-50},{"p":439,"v":-64},{"p":446,"v":-44},{"p":453,"v":30},{"p":460,"v":-58},{"p":467,"v":-70},{"p":474,"v":-50},{"p":481,"v":-62},{"p":488,"v":-46},{"p":495,"v":-54},{"p":502,"v":40},{"p":509,"v":-28},{"p":516,"v":30},{"p":523,"v":-36},{"p":530,"v":46},{"p":537,"v":-40},{"p":544,"v":24},{"p":551,"v":-30},{"p":558,"v":36},{"p":565,"v":-58},{"p":572,"v":-42},{"p":579,"v":28},{"p":586,"v":-66},{"p":593,"v":-48},{"p":600,"v":30},{"p":607,"v":-52},{"p":614,"v":-38},{"p":621,"v":44},{"p":628,"v":58},{"p":635,"v":-30},{"p":642,"v":50},{"p":649,"v":38},{"p":656,"v":60},{"p":663,"v":-22},{"p":670,"v":46},{"p":677,"v":-24},{"p":684,"v":40},{"p":691,"v":54},{"p":698,"v":-30},{"p":705,"v":-52},{"p":712,"v":-40},{"p":719,"v":28},{"p":726,"v":-64},{"p":733,"v":-46},{"p":740,"v":-72},{"p":747,"v":-50},{"p":754,"v":-58},{"p":761,"v":30},{"p":768,"v":-66},{"p":775,"v":-44},{"p":782,"v":40},{"p":789,"v":52},{"p":796,"v":34},{"p":803,"v":46},{"p":810,"v":-36},{"p":817,"v":42},{"p":824,"v":56},{"p":831,"v":-30},{"p":838,"v":44},{"p":845,"v":38},{"p":852,"v":54},{"p":859,"v":-50},{"p":866,"v":-62},{"p":873,"v":34},{"p":880,"v":-42},{"p":887,"v":30},{"p":894,"v":-64},{"p":901,"v":-36},{"p":908,"v":28},{"p":915,"v":-50},{"p":922,"v":36},{"p":929,"v":-30},{"p":936,"v":-66},{"p":943,"v":26},{"p":950,"v":-40},{"p":957,"v":32},{"p":964,"v":44},{"p":971,"v":-28},{"p":978,"v":38},{"p":985,"v":50},{"p":992,"v":-34},{"p":999,"v":46},{"p":1006,"v":-40},{"p":1013,"v":40},{"p":1020,"v":-26},{"p":1027,"v":52},{"p":1034,"v":-44},{"p":1041,"v":36},{"p":1048,"v":-32},{"p":1055,"v":42},{"p":1062,"v":-50},{"p":1069,"v":32},{"p":1076,"v":-38},{"p":1083,"v":44},{"p":1090,"v":-56},{"p":1097,"v":34},{"p":1104,"v":-40},{"p":1111,"v":48},{"p":1118,"v":-62},{"p":1125,"v":36},{"p":1132,"v":-46},{"p":1139,"v":42},{"p":1146,"v":-70},{"p":1153,"v":40},{"p":1160,"v":-44},{"p":1167,"v":34},{"p":1174,"v":-54},{"p":1181,"v":46},{"p":1188,"v":-36},{"p":1195,"v":32},{"p":1202,"v":-60},{"p":1209,"v":38},{"p":1216,"v":-48},{"p":1223,"v":44},{"p":1230,"v":-78},{"p":1237,"v":40},{"p":1244,"v":-46},{"p":1251,"v":52},{"p":1258,"v":-64},{"p":1265,"v":60},{"p":1272,"v":46},{"p":1279,"v":-40},{"p":1286,"v":54},{"p":1293,"v":38},{"p":1300,"v":-56},{"p":1307,"v":-68},{"p":1314,"v":42},{"p":1321,"v":-52},{"p":1328,"v":-72},{"p":1335,"v":36},{"p":1342,"v":-84},{"p":1349,"v":-60},{"p":1356,"v":-74},{"p":1363,"v":30},{"p":1370,"v":-58},{"p":1377,"v":-90},{"p":1384,"v":-66},{"p":1391,"v":34},{"p":1398,"v":-52},{"p":1405,"v":50},{"p":1412,"v":66},{"p":1419,"v":44},{"p":1426,"v":-70},{"p":1433,"v":58},{"p":1440,"v":38},{"p":1447,"v":-62},{"p":1454,"v":64},{"p":1461,"v":48},{"p":1468,"v":-44},{"p":1475,"v":58},{"p":1482,"v":40},{"p":1489,"v":-84},{"p":1496,"v":52},{"p":1503,"v":36},{"p":1510,"v":-58},{"p":1517,"v":46},{"p":1524,"v":60},{"p":1531,"v":-38},{"p":1538,"v":44},{"p":1545,"v":-70},{"p":1552,"v":56},{"p":1559,"v":36},{"p":1566,"v":-46},{"p":1573,"v":42},{"p":1580,"v":52},{"p":1587,"v":-56},{"p":1594,"v":34},{"p":1601,"v":48},{"p":1608,"v":-40},{"p":1615,"v":38},{"p":1622,"v":46},{"p":1629,"v":-34},{"p":1636,"v":32},{"p":1643,"v":42},{"p":1650,"v":-46},{"p":1657,"v":36},{"p":1664,"v":28},{"p":1671,"v":-30},{"p":1678,"v":44},{"p":1685,"v":32},{"p":1692,"v":-38},{"p":1699,"v":40},{"p":1706,"v":-26},{"p":1713,"v":36},{"p":1720,"v":46},{"p":1727,"v":-42},{"p":1734,"v":30},{"p":1741,"v":38},{"p":1748,"v":-28},{"p":1755,"v":46},{"p":1762,"v":34},{"p":1769,"v":-34},{"p":1776,"v":40},{"p":1783,"v":-44},{"p":1790,"v":30},{"p":1797,"v":42},{"p":1804,"v":-26},{"p":1811,"v":38},{"p":1818,"v":-36},{"p":1825,"v":44},{"p":1832,"v":30},{"p":1839,"v":-30},{"p":1846,"v":40},{"p":1853,"v":34},{"p":1860,"v":-24},{"p":1867,"v":46},{"p":1874,"v":-40},{"p":1881,"v":32},{"p":1888,"v":-22},{"p":1895,"v":42},{"p":1902,"v":36},{"p":1909,"v":-34},{"p":1916,"v":44},{"p":1923,"v":-26},{"p":1930,"v":32},{"p":1937,"v":40},{"p":1944,"v":-30},{"p":1951,"v":46},{"p":1958,"v":30},{"p":1965,"v":-24},{"p":1972,"v":38},{"p":1979,"v":-28},{"p":1986,"v":28},{"p":1993,"v":-48},{"p":2000,"v":-66},{"p":2007,"v":-52},{"p":2014,"v":-72},{"p":2021,"v":-56},{"p":2028,"v":-62},{"p":2035,"v":-74},{"p":2042,"v":-58},{"p":2049,"v":-70},{"p":2056,"v":-50},{"p":2063,"v":20},{"p":2070,"v":-36},{"p":2077,"v":-28},{"p":2084,"v":-40},{"p":2091,"v":22},{"p":2098,"v":-30},{"p":2105,"v":-44},{"p":2112,"v":-36},{"p":2120,"v":-62},{"p":2127,"v":-78},{"p":2134,"v":-58},{"p":2141,"v":-84},{"p":2148,"v":-66},{"p":2155,"v":-70},{"p":2162,"v":-54},{"p":2170,"v":-26},{"p":2177,"v":34},{"p":2184,"v":-36},{"p":2191,"v":42},{"p":2198,"v":-24},{"p":2205,"v":46},{"p":2212,"v":-32},{"p":2219,"v":36},{"p":2226,"v":-44},{"p":2233,"v":50},{"p":2240,"v":-28},{"p":2247,"v":40},{"p":2254,"v":-46},{"p":2261,"v":34},{"p":2268,"v":-36},{"p":2275,"v":44},{"p":2282,"v":-60},{"p":2289,"v":36},{"p":2296,"v":-42},{"p":2303,"v":52},{"p":2310,"v":-34},{"p":2317,"v":44},{"p":2324,"v":60},{"p":2331,"v":-67},{"p":2338,"v":48},{"p":2345,"v":38},{"p":2352,"v":-40},{"p":2359,"v":50},{"p":2366,"v":-56},{"p":2373,"v":34},{"p":2380,"v":46},{"p":2387,"v":-36},{"p":2394,"v":40},{"p":2401,"v":-44},{"p":2408,"v":54},{"p":2415,"v":36},{"p":2422,"v":-32},{"p":2429,"v":48},{"p":2436,"v":-62},{"p":2443,"v":40},{"p":2450,"v":34},{"p":2457,"v":-42},{"p":2464,"v":52},{"p":2471,"v":-48},{"p":2478,"v":36},{"p":2485,"v":-66},{"p":2496,"v":-90},{"p":2503,"v":44},{"p":2510,"v":-50},{"p":2517,"v":58},{"p":2524,"v":40},{"p":2531,"v":-36},{"p":2538,"v":50},{"p":2545,"v":-58},{"p":2552,"v":44},{"p":2559,"v":62},{"p":2566,"v":-42},{"p":2573,"v":48},{"p":2580,"v":36},{"p":2587,"v":-52},{"p":2594,"v":54},{"p":2601,"v":-34},{"p":2608,"v":46},{"p":2615,"v":60},{"p":2622,"v":-40},{"p":2629,"v":40},{"p":2636,"v":-64},{"p":2643,"v":-50},{"p":2650,"v":-76},{"p":2657,"v":34},{"p":2664,"v":-58},{"p":2671,"v":-84},{"p":2678,"v":-50},{"p":2685,"v":28},{"p":2696,"v":-108},{"p":2703,"v":-60},{"p":2710,"v":46},{"p":2717,"v":-42},{"p":2724,"v":58},{"p":2731,"v":38},{"p":2738,"v":-34},{"p":2745,"v":50},{"p":2752,"v":-76},{"p":2759,"v":62},{"p":2766,"v":42},{"p":2773,"v":-40},{"p":2780,"v":56},{"p":2787,"v":-50},{"p":2794,"v":44},{"p":2801,"v":60},{"p":2808,"v":-38},{"p":2815,"v":48},{"p":2822,"v":36},{"p":2829,"v":-30},{"p":2836,"v":54},{"p":2843,"v":-36},{"p":2850,"v":42},{"p":2857,"v":56},{"p":2864,"v":-28},{"p":2871,"v":46},{"p":2878,"v":34},{"p":2885,"v":-34},{"p":2892,"v":60},{"p":2899,"v":-26},{"p":2906,"v":44},{"p":2913,"v":-40},{"p":2920,"v":52},{"p":2927,"v":-30},{"p":2934,"v":-54},{"p":2941,"v":40},{"p":2948,"v":-82},{"p":2955,"v":-60},{"p":2962,"v":-74},{"p":2969,"v":46},{"p":2976,"v":-56},{"p":2983,"v":-70},{"p":2990,"v":38},{"p":2997,"v":-48},{"p":3012,"v":-120},{"p":3019,"v":-54},{"p":3026,"v":60},{"p":3033,"v":42},{"p":3040,"v":-72},{"p":3047,"v":54},{"p":3054,"v":-50},{"p":3061,"v":46},{"p":3068,"v":-66},{"p":3075,"v":52},{"p":3082,"v":-44},{"p":3089,"v":60},{"p":3102,"v":-112},{"p":3109,"v":48},{"p":3116,"v":-56},{"p":3123,"v":66},{"p":3130,"v":44},{"p":3137,"v":-44},{"p":3144,"v":58},{"p":3151,"v":-60},{"p":3158,"v":52},{"p":3165,"v":-38},{"p":3172,"v":64},{"p":3179,"v":40},{"p":3186,"v":-52},{"p":3193,"v":56},{"p":3200,"v":-46},{"p":3207,"v":70},{"p":3214,"v":44},{"p":3221,"v":-70},{"p":3228,"v":54},{"p":3235,"v":-38},{"p":3242,"v":62},{"p":3249,"v":-58},{"p":3256,"v":46},{"p":3263,"v":-44},{"p":3270,"v":58},{"p":3277,"v":-50},{"p":3284,"v":68},{"p":3291,"v":-36},{"p":3298,"v":48},{"p":3305,"v":-62},{"p":3312,"v":56},{"p":3319,"v":-42},{"p":3326,"v":64},{"p":3333,"v":44},{"p":3340,"v":-56},{"p":3347,"v":-86},{"p":3354,"v":54},{"p":3361,"v":-38},{"p":3368,"v":62},{"p":3375,"v":-44},{"p":3382,"v":48},{"p":3389,"v":70},{"p":3396,"v":-58},{"p":3403,"v":44},{"p":3410,"v":60},{"p":3417,"v":-36},{"p":3424,"v":52},{"p":3431,"v":74},{"p":3438,"v":-48},{"p":3445,"v":50},{"p":3452,"v":66},{"p":3459,"v":-66},{"p":3468,"v":-149},{"p":3475,"v":-60},{"p":3482,"v":-76},{"p":3489,"v":44},{"p":3496,"v":-58},{"p":3503,"v":-84},{"p":3510,"v":40},{"p":3517,"v":-66},{"p":3524,"v":-92},{"p":3531,"v":-58},{"p":3538,"v":-74},{"p":3545,"v":36},{"p":3552,"v":-62},{"p":3559,"v":-86},{"p":3575,"v":-99},{"p":3582,"v":-46},{"p":3589,"v":54},{"p":3596,"v":-38},{"p":3603,"v":64},{"p":3610,"v":44},{"p":3617,"v":-50},{"p":3624,"v":58},{"p":3631,"v":-34},{"p":3638,"v":50},{"p":3645,"v":68},{"p":3652,"v":-44},{"p":3659,"v":48},{"p":3666,"v":-58},{"p":3673,"v":60},{"p":3680,"v":40},{"p":3687,"v":-40},{"p":3694,"v":54},{"p":3701,"v":72},{"p":3708,"v":-64},{"p":3715,"v":44},{"p":3722,"v":62},{"p":3729,"v":-36},{"p":3736,"v":50},{"p":3743,"v":-68},{"p":3750,"v":40},{"p":3757,"v":56},{"p":3764,"v":-42},{"p":3771,"v":44},{"p":3785,"v":-99},{"p":3792,"v":50},{"p":3799,"v":-44},{"p":3806,"v":36},{"p":3813,"v":54},{"p":3820,"v":-52},{"p":3827,"v":40},{"p":3834,"v":58},{"p":3841,"v":-30},{"p":3848,"v":34},{"p":3855,"v":-40},{"p":3862,"v":46},{"p":3869,"v":30},{"p":3876,"v":-50},{"p":3883,"v":50},{"p":3890,"v":-32},{"p":3897,"v":36},{"p":3904,"v":44},{"p":3911,"v":-42},{"p":3918,"v":30},{"p":3925,"v":48},{"p":3932,"v":-28},{"p":3939,"v":38},{"p":3946,"v":-60},{"p":3953,"v":32},{"p":3960,"v":46},{"p":3967,"v":-36},{"p":3974,"v":40},{"p":3981,"v":-26},{"p":3988,"v":34},{"p":3995,"v":44},{"p":4002,"v":-50},{"p":4009,"v":24},{"p":4016,"v":-36},{"p":4023,"v":32},{"p":4030,"v":-44},{"p":4037,"v":28},{"p":4044,"v":-34},{"p":4051,"v":36},{"p":4058,"v":-42},{"p":4065,"v":30},{"p":4072,"v":46},{"p":4079,"v":-30},{"p":4086,"v":28},{"p":4093,"v":-48},{"p":4100,"v":52},{"p":4108,"v":-102},{"p":4115,"v":-46},{"p":4122,"v":30},{"p":4130,"v":-90},{"p":4137,"v":-44},{"p":4144,"v":40},{"p":4151,"v":-32},{"p":4158,"v":26},{"p":4165,"v":-40},{"p":4172,"v":34},{"p":4179,"v":-28},{"p":4186,"v":30},{"p":4193,"v":-36},{"p":4200,"v":38},{"p":4207,"v":-26},{"p":4214,"v":32},{"p":4221,"v":-34},{"p":4228,"v":28},{"p":4235,"v":-30}],
"leaders":[{"g":"a","i":0,"x":458,"y":872},{"g":"a","i":1,"x":537,"y":1023},{"g":"a","i":2,"x":512,"y":1060},{"g":"b","i":0,"x":465,"y":868},{"g":"b","i":1,"x":541,"y":1008},{"g":"b","i":2,"x":548,"y":1043},{"g":"c","i":0,"x":472,"y":865},{"g":"c","i":1,"x":548,"y":1005},{"g":"c","i":2,"x":544,"y":1011},{"g":"c","i":3,"x":585,"y":1020},{"g":"d","i":0,"x":749,"y":639},{"g":"d","i":1,"x":898,"y":762},{"g":"e","i":0,"x":941,"y":-290},{"g":"e","i":1,"x":1092,"y":-336},{"g":"e","i":2,"x":1125,"y":-302},{"g":"f","i":0,"x":947,"y":-292},{"g":"f","i":1,"x":1092,"y":-336},{"g":"f","i":2,"x":1121,"y":-346},{"g":"h","i":0,"x":158,"y":-972},{"g":"h","i":1,"x":188,"y":-1163},{"g":"j","i":0,"x":130,"y":-976},{"g":"j","i":1,"x":151,"y":-1132},{"g":"j","i":2,"x":152,"y":-1169},{"g":"k","i":0,"x":40,"y":-984},{"g":"k","i":1,"x":48,"y":-1178},{"g":"l","i":0,"x":-344,"y":-923},{"g":"l","i":1,"x":-419,"y":-1105},{"g":"m","i":0,"x":-414,"y":-896},{"g":"m","i":1,"x":-486,"y":-1060},{"g":"n","i":0,"x":-431,"y":-886},{"g":"n","i":1,"x":-510,"y":-1035},{"g":"n","i":2,"x":-522,"y":-1052},{"g":"o","i":0,"x":-933,"y":-314},{"g":"o","i":1,"x":-1114,"y":-375},{"g":"q","i":0,"x":-978,"y":180},{"g":"q","i":1,"x":-1165,"y":218},{"g":"r","i":0,"x":-414,"y":894},{"g":"r","i":1,"x":-500,"y":1064}],
"genes":[{"t":"Col440II","p":308,"r":1192},{"t":"Col440I","p":328,"r":1191},{"t":"Col(pHAD28)","p":354,"r":1191},{"t":"rphC","p":587,"r":1177},{"t":"ykkC","p":1238,"r":1177},{"t":"ykkD","p":1267,"r":1180},{"t":"aadK","p":2013,"r":1186},{"t":"blt","p":2035,"r":1184},{"t":"vmlR","p":2094,"r":1185},{"t":"tmrB","p":2356,"r":1183},{"t":"lmrB","p":2402,"r":1181},{"t":"mphK,mph(K)","p":2425,"r":1184},{"t":"satA","p":2962,"r":1177},{"t":"Bsub_mprF","p":3299,"r":1184},{"t":"bmr","p":3944,"r":1186}]
},
"resolve":{"scale":{"radius":"independent","angle":"independent"}},
"layer":[
{"data":{"name":"contigs"},"mark":{"type":"arc","radius":975,"radius2":927,"stroke":"#000000","strokeWidth":1},"encoding":{"theta":{"field":"s","type":"quantitative","stack":null,"scale":{"domain":[0,4238],"range":[0,6.283185]}},"theta2":{"field":"e"},"color":{"field":"t","type":"nominal","legend":null,"scale":{"domain":["a","b","c","d"],"range":["#f0f0f0","#bdbdbd","#636363","#000000"]}}}},
{"data":{"name":"minor"},"mark":{"type":"arc","radius":982,"radius2":975,"filled":false,"stroke":"#000000","strokeWidth":1.5},"encoding":{"theta":{"field":"data","type":"quantitative","stack":null,"scale":{"domain":[0,4238],"range":[0,6.283185]}},"theta2":{"field":"data"}}},
{"data":{"name":"major"},"mark":{"type":"arc","radius":990,"radius2":975,"filled":false,"stroke":"#000000","strokeWidth":1.8},"encoding":{"theta":{"field":"k","type":"quantitative","stack":null,"scale":{"domain":[0,4238],"range":[0,6.283185]}},"theta2":{"field":"k"}}},
{"data":{"name":"cdsO"},"mark":{"type":"arc","radius":909,"radius2":889,"fill":"#a0a0a0"},"encoding":{"theta":{"field":"s","type":"quantitative","stack":null,"scale":{"domain":[0,4238],"range":[0,6.283185]}},"theta2":{"field":"e"}}},
{"data":{"name":"cdsI"},"mark":{"type":"arc","radius":889,"radius2":870,"fill":"#a0a0a0"},"encoding":{"theta":{"field":"s","type":"quantitative","stack":null,"scale":{"domain":[0,4238],"range":[0,6.283185]}},"theta2":{"field":"e"}}},
{"data":{"name":"hatch"},"mark":{"type":"arc","radius":910,"radius2":869,"filled":false,"stroke":"#ffffff","strokeWidth":1.1},"encoding":{"theta":{"field":"data","type":"quantitative","stack":null,"scale":{"domain":[0,4238],"range":[0,6.283185]}},"theta2":{"field":"data"}}},
{"data":{"name":"markO"},"mark":{"type":"arc","radius":909,"radius2":889,"filled":false,"stroke":"#fb6a4a","strokeWidth":1.8},"encoding":{"theta":{"field":"data","type":"quantitative","stack":null,"scale":{"domain":[0,4238],"range":[0,6.283185]}},"theta2":{"field":"data"}}},
{"data":{"name":"markI"},"mark":{"type":"arc","radius":889,"radius2":870,"filled":false,"stroke":"#fb6a4a","strokeWidth":1.8},"encoding":{"theta":{"field":"data","type":"quantitative","stack":null,"scale":{"domain":[0,4238],"range":[0,6.283185]}},"theta2":{"field":"data"}}},
{"data":{"name":"ring"},"mark":{"type":"arc","radius":853,"radius2":815},"encoding":{"theta":{"field":"s","type":"quantitative","stack":null,"scale":{"domain":[0,4238],"range":[0,6.283185]}},"theta2":{"field":"e"},"fill":{"field":"t","type":"nominal","legend":null,"scale":{"domain":["m","l"],"range":["#084081","#0868ac"]}}}},
{"data":{"name":"slits"},"mark":{"type":"arc","radius":853,"radius2":815,"filled":false,"stroke":"#ffffff","strokeWidth":1.2},"encoding":{"theta":{"field":"data","type":"quantitative","stack":null,"scale":{"domain":[0,4238],"range":[0,6.283185]}},"theta2":{"field":"data"}}},
{"data":{"name":"skewBand"},"transform":[{"filter":"datum.v>0"}],"mark":{"type":"arc","radius2":668,"fill":"#9ecae1"},"encoding":{"theta":{"field":"s","type":"quantitative","stack":null,"scale":{"domain":[0,4238],"range":[0,6.283185]}},"theta2":{"field":"e"},"radius":{"field":"v","type":"quantitative","scale":{"type":"linear","zero":false,"domain":[-200,200],"range":[468,868]}}}},
{"data":{"name":"skewBand"},"transform":[{"filter":"datum.v<0"}],"mark":{"type":"arc","radius2":668,"fill":"#fc9272"},"encoding":{"theta":{"field":"s","type":"quantitative","stack":null,"scale":{"domain":[0,4238],"range":[0,6.283185]}},"theta2":{"field":"e"},"radius":{"field":"v","type":"quantitative","scale":{"type":"linear","zero":false,"domain":[-200,200],"range":[468,868]}}}},
{"data":{"name":"skew"},"transform":[{"filter":"datum.v>0"}],"mark":{"type":"arc","radius2":668,"filled":false,"stroke":"#6baed6","strokeWidth":2.2},"encoding":{"theta":{"field":"p","type":"quantitative","stack":null,"scale":{"domain":[0,4238],"range":[0,6.283185]}},"theta2":{"field":"p"},"radius":{"field":"v","type":"quantitative","scale":{"type":"linear","zero":false,"domain":[-200,200],"range":[468,868]}}}},
{"data":{"name":"skew"},"transform":[{"filter":"datum.v<0"}],"mark":{"type":"arc","radius2":668,"filled":false,"stroke":"#fb6a4a","strokeWidth":2.2},"encoding":{"theta":{"field":"p","type":"quantitative","stack":null,"scale":{"domain":[0,4238],"range":[0,6.283185]}},"theta2":{"field":"p"},"radius":{"field":"v","type":"quantitative","scale":{"type":"linear","zero":false,"domain":[-200,200],"range":[468,868]}}}},
{"data":{"name":"blackMarks"},"mark":{"type":"arc","filled":false,"stroke":"#000000","strokeWidth":1.6},"encoding":{"theta":{"field":"p","type":"quantitative","stack":null,"scale":{"domain":[0,4238],"range":[0,6.283185]}},"theta2":{"field":"p"},"radius":{"field":"v","type":"quantitative","scale":{"type":"linear","zero":false,"domain":[-200,200],"range":[468,868]}},"radius2":{"field":"w"}}},
{"data":{"name":"gcBand"},"transform":[{"filter":"datum.v>0"}],"mark":{"type":"arc","radius2":473,"fill":"#9ecae1"},"encoding":{"theta":{"field":"s","type":"quantitative","stack":null,"scale":{"domain":[0,4238],"range":[0,6.283185]}},"theta2":{"field":"e"},"radius":{"field":"v","type":"quantitative","scale":{"type":"linear","zero":false,"domain":[-200,200],"range":[273,673]}}}},
{"data":{"name":"gcBand"},"transform":[{"filter":"datum.v<0"}],"mark":{"type":"arc","radius2":473,"fill":"#a1d99b"},"encoding":{"theta":{"field":"s","type":"quantitative","stack":null,"scale":{"domain":[0,4238],"range":[0,6.283185]}},"theta2":{"field":"e"},"radius":{"field":"v","type":"quantitative","scale":{"type":"linear","zero":false,"domain":[-200,200],"range":[273,673]}}}},
{"data":{"name":"gc"},"transform":[{"filter":"datum.v>0"}],"mark":{"type":"arc","radius2":473,"filled":false,"stroke":"#6baed6","strokeWidth":2.2},"encoding":{"theta":{"field":"p","type":"quantitative","stack":null,"scale":{"domain":[0,4238],"range":[0,6.283185]}},"theta2":{"field":"p"},"radius":{"field":"v","type":"quantitative","scale":{"type":"linear","zero":false,"domain":[-200,200],"range":[273,673]}}}},
{"data":{"name":"gc"},"transform":[{"filter":"datum.v<0"}],"mark":{"type":"arc","radius2":473,"filled":false,"stroke":"#74c476","strokeWidth":2.2},"encoding":{"theta":{"field":"p","type":"quantitative","stack":null,"scale":{"domain":[0,4238],"range":[0,6.283185]}},"theta2":{"field":"p"},"radius":{"field":"v","type":"quantitative","scale":{"type":"linear","zero":false,"domain":[-200,200],"range":[273,673]}}}},
{"data":{"name":"leaders"},"mark":{"type":"line","stroke":"#fb6a4a","strokeWidth":1.8},"encoding":{"x":{"field":"x","type":"quantitative","axis":null,"scale":{"domain":[-1500,1500],"range":[0,3000]}},"y":{"field":"y","type":"quantitative","axis":null,"scale":{"domain":[-1500,1500],"range":[3000,0]}},"detail":{"field":"g"},"order":{"field":"i"}}},
{"data":{"name":"major"},"transform":[{"filter":"datum.k<2119"}],"mark":{"type":"text","radius":1000,"align":"left","baseline":"middle","font":"Liberation Sans","fontSize":43,"color":"#000000"},"encoding":{"theta":{"field":"k","type":"quantitative","stack":null,"scale":{"domain":[0,4238],"range":[0,6.283185]}},"angle":{"field":"k","type":"quantitative","scale":{"type":"linear","zero":false,"domain":[0,4238],"range":[-90,270]}},"text":{"field":"t"}}},
{"data":{"name":"major"},"transform":[{"filter":"datum.k>2119"}],"mark":{"type":"text","radius":1000,"align":"right","baseline":"middle","font":"Liberation Sans","fontSize":43,"color":"#000000"},"encoding":{"theta":{"field":"k","type":"quantitative","stack":null,"scale":{"domain":[0,4238],"range":[0,6.283185]}},"angle":{"field":"k","type":"quantitative","scale":{"type":"linear","zero":false,"domain":[0,4238],"range":[90,450]}},"text":{"field":"t"}}},
{"data":{"name":"genes"},"transform":[{"filter":"datum.p<2119"}],"mark":{"type":"text","align":"left","baseline":"middle","font":"Liberation Sans","fontSize":39,"color":"#2171b5"},"encoding":{"theta":{"field":"p","type":"quantitative","stack":null,"scale":{"domain":[0,4238],"range":[0,6.283185]}},"radius":{"field":"r","type":"quantitative","scale":null},"angle":{"field":"p","type":"quantitative","scale":{"type":"linear","zero":false,"domain":[0,4238],"range":[-90,270]}},"text":{"field":"t"}}},
{"data":{"name":"genes"},"transform":[{"filter":"datum.p>2119"}],"mark":{"type":"text","align":"right","baseline":"middle","font":"Liberation Sans","fontSize":39,"color":"#2171b5"},"encoding":{"theta":{"field":"p","type":"quantitative","stack":null,"scale":{"domain":[0,4238],"range":[0,6.283185]}},"radius":{"field":"r","type":"quantitative","scale":null},"angle":{"field":"p","type":"quantitative","scale":{"type":"linear","zero":false,"domain":[0,4238],"range":[90,450]}},"text":{"field":"t"}}}
]}
